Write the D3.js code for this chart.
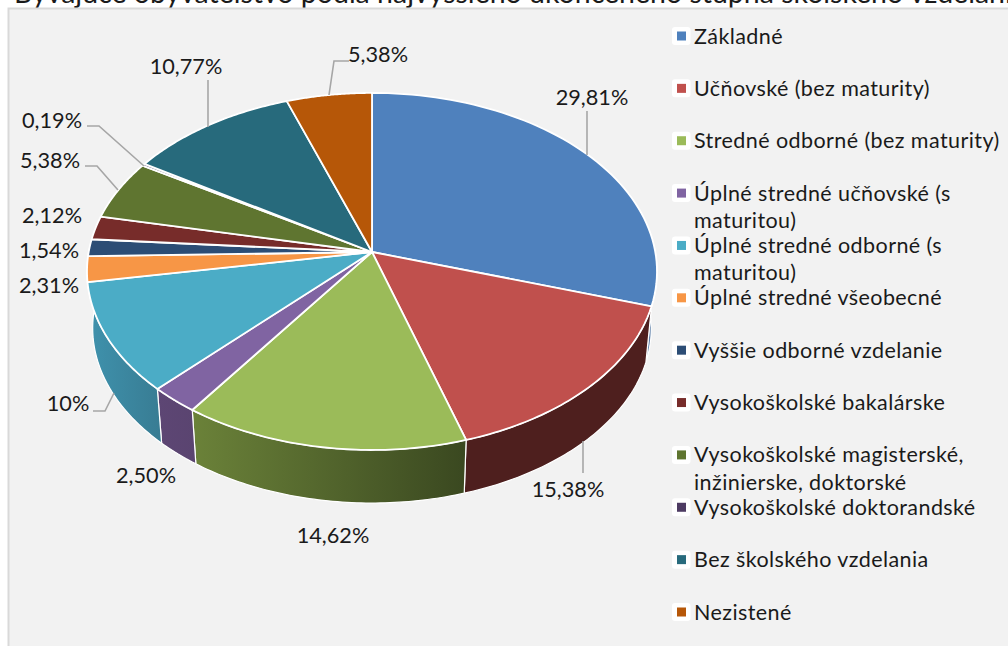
<!DOCTYPE html>
<html><head><meta charset="utf-8">
<script src="https://cdn.jsdelivr.net/npm/d3@7/dist/d3.min.js"></script>
<style>html,body{margin:0;padding:0;background:#fff;overflow:hidden}svg{display:block}text{font-family:Lato,"Open Sans",sans-serif;fill:#1a1a1a}</style>
</head><body><svg id="c" width="1008" height="646"></svg>
<script>
const titleText = "Bývajúce obyvateľstvo podľa najvyššieho ukončeného stupňa školského vzdelania";
const categories = ["Základné","Učňovské (bez maturity)","Stredné odborné (bez maturity)","Úplné stredné učňovské (s\nmaturitou)","Úplné stredné odborné (s\nmaturitou)","Úplné stredné všeobecné","Vyššie odborné vzdelanie","Vysokoškolské bakalárske","Vysokoškolské magisterské,\ninžinierske, doktorské","Vysokoškolské doktorandské","Bez školského vzdelania","Nezistené"];
const values = [29.81,15.38,14.62,2.50,10,2.31,1.54,2.12,5.38,0.19,10.77,5.38];
const valueLabels = ["29,81%","15,38%","14,62%","2,50%","10%","2,31%","1,54%","2,12%","5,38%","0,19%","10,77%","5,38%"];
const colors = ["#4f81bd","#c0504d","#9bbb59","#8064a2","#4bacc6","#f79646","#2c4d75","#772c2a","#5f7530","#4d3b62","#276a7c","#b65708"];
// wall shades, left to right, for the slices whose side is visible
const wallShades = {0:["#6d8fb8","#3a5f8a"],1:["#4e1f1e","#4e1f1e"],2:["#6b8239","#3a4820"],3:["#5d4674","#5a4470"],4:["#3f92ad","#387c93"]};
// label anchor (centre) and leader polyline, one per slice
const labelAnchors = [[592,97],[568,489],[333,535],[146,475],[68,403],[49,285],[49,250],[52,215],[50,160],[52,120],[186,66],[378,54]];
const leaders = [[[587,111],[587,155]],[[583,441],[583,473]],null,null,[[93,411],[105,411],[114,393]],null,null,null,[[85,166],[97,166],[118,190]],[[87,126],[99,126],[144,166]],[[208,80],[208,127]],[[349,61],[334,61],[329,95]]];

const svg = d3.select("#c");
const defs = svg.append("defs");
// clipped title, then the panel
svg.append("text").attr("x",14).attr("y",2.5).attr("font-size",28.5).text(titleText);
svg.append("rect").attr("x",8.5).attr("y",8.5).attr("width",1010).attr("height",650).attr("fill","#f2f2f2").attr("stroke","#d9d9d9").attr("stroke-width",2);

// projected pie
const CX=372, CY=252, R=283.3, S=176.4, K=0.109, DEPTH=57, INSET=0.98;
const proj=(a,f=1,d=0)=>{const u=Math.sin(a),v=-Math.cos(a),w=1-K*v;return [CX+f*R*u/w, CY+d+f*S*v/w];};
const arcs=d3.pie().sort(null).value(d=>d).startAngle(0).endAngle(2*Math.PI)(values);
const sample=(a0,a1)=>d3.range(0,61).map(i=>a0+(a1-a0)*i/60);
const line=d3.line();
const wS=Math.PI*0.49, wE=Math.PI*1.51;

const walls=svg.append("g");
arcs.forEach((s,i)=>{
  if(!(i in wallShades))return;
  const a0=Math.max(s.startAngle,wS), a1=i===4?wE:s.endAngle;
  const id="w"+i;
  const g=defs.append("linearGradient").attr("id",id);
  g.append("stop").attr("offset",0).attr("stop-color",wallShades[i][0]);
  g.append("stop").attr("offset",1).attr("stop-color",wallShades[i][1]);
  const top=sample(a0,a1).map(a=>proj(a));
  const bot=sample(a1,a0).map(a=>proj(a,INSET,DEPTH));
  walls.append("path").attr("d",line(top.concat(bot))+"Z").attr("fill",`url(#${id})`).attr("stroke","#fff").attr("stroke-width",1.2).attr("stroke-linejoin","round");
});
const faces=svg.append("g");
arcs.forEach((s,i)=>{
  const pts=[[CX,CY]].concat(sample(s.startAngle,s.endAngle).map(a=>proj(a)));
  faces.append("path").attr("d",line(pts)+"Z").attr("fill",colors[i]).attr("stroke","#fff").attr("stroke-width",1.8).attr("stroke-linejoin","round");
});
// leaders and labels
leaders.forEach(l=>{ if(l) svg.append("path").attr("d",line(l)).attr("fill","none").attr("stroke","#a6a6a6").attr("stroke-width",1.6); });
valueLabels.forEach((t,i)=>{
  svg.append("text").attr("x",labelAnchors[i][0]).attr("y",labelAnchors[i][1]).attr("text-anchor","middle").attr("dy","0.35em").attr("font-size",21.7).text(t);
});
// legend
const ly=d3.scalePoint().domain(categories).range([36,612]);
const leg=svg.append("g");
categories.forEach((c,i)=>{
  const y=ly(c);
  leg.append("rect").attr("x",672).attr("y",y-9).attr("width",18.5).attr("height",18).attr("rx",3).attr("fill","#fff");
  leg.append("rect").attr("x",677).attr("y",y-4.5).attr("width",9).attr("height",9).attr("fill",colors[i]);
  c.split("\n").forEach((t,j)=>{
    leg.append("text").attr("x",694).attr("y",y+j*27.5).attr("dy","0.35em").attr("font-size",21.5).attr("letter-spacing",0.42).text(t);
  });
});
</script></body></html>
